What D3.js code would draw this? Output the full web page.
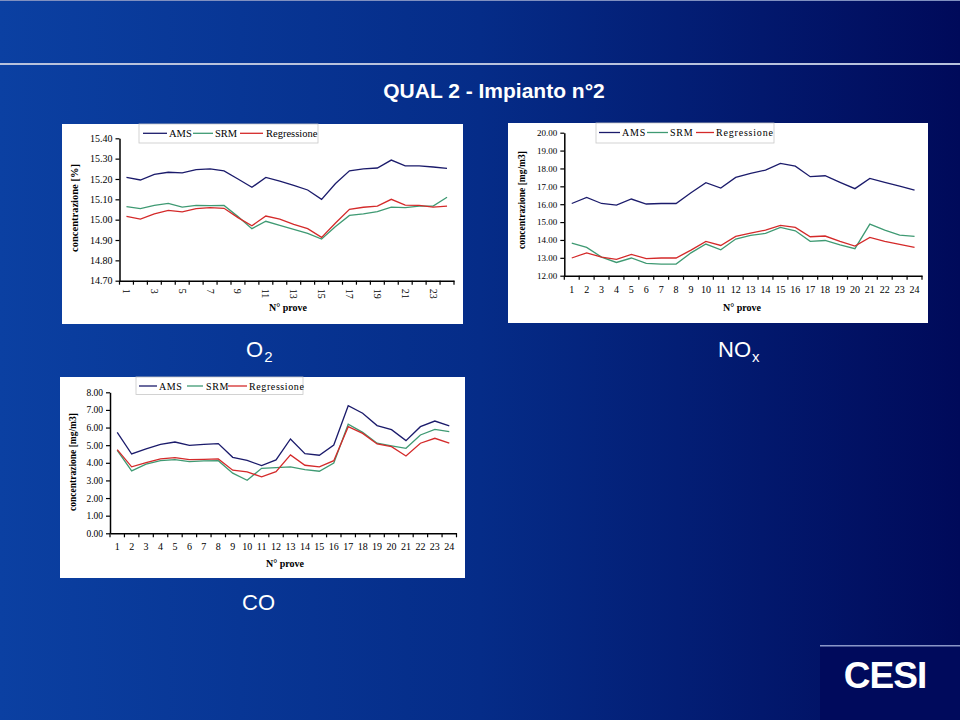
<!DOCTYPE html>
<html><head><meta charset="utf-8">
<script src="https://cdn.jsdelivr.net/npm/d3@7"></script>
<style>
html,body{margin:0;padding:0;background:#062a86;}
svg{display:block;}
</style></head>
<body>
<svg id="c" width="960" height="720"></svg>
<script>
const prove = [1,2,3,4,5,6,7,8,9,10,11,12,13,14,15,16,17,18,19,20,21,22,23,24];
const seriesNames = ["AMS","SRM","Regressione"];

const o2AMS = [15.208,15.195,15.223,15.233,15.230,15.246,15.250,15.240,15.200,15.159,15.208,15.190,15.169,15.146,15.100,15.178,15.240,15.250,15.254,15.293,15.264,15.264,15.259,15.252];
const o2SRM = [15.064,15.054,15.070,15.080,15.062,15.070,15.069,15.070,15.015,14.956,14.992,14.972,14.952,14.933,14.905,14.966,15.021,15.028,15.039,15.062,15.059,15.067,15.067,15.110];
const o2Reg = [15.016,15.003,15.028,15.046,15.038,15.054,15.059,15.056,15.010,14.970,15.018,15.003,14.977,14.956,14.913,14.984,15.051,15.061,15.067,15.100,15.072,15.070,15.062,15.067];
const o2Ticks = [14.70,14.80,14.90,15.00,15.10,15.20,15.30,15.40];
const o2XLabels = [1,3,5,7,9,11,13,15,17,19,21,23];

const noxAMS = [16.04,16.38,16.04,15.95,16.29,16.01,16.04,16.04,16.64,17.20,16.90,17.50,17.72,17.91,18.28,18.13,17.54,17.59,17.22,16.87,17.44,17.22,17.01,16.79];
const noxSRM = [13.82,13.58,13.04,12.74,12.99,12.69,12.65,12.65,13.28,13.77,13.45,14.05,14.25,14.37,14.70,14.51,13.92,13.97,13.73,13.51,14.89,14.55,14.27,14.20];
const noxReg = [12.99,13.28,13.04,12.91,13.19,12.95,12.99,12.99,13.43,13.92,13.69,14.20,14.38,14.55,14.81,14.70,14.18,14.22,13.92,13.66,14.14,13.92,13.75,13.58];
const noxTicks = [12,13,14,15,16,17,18,19,20];

const coAMS = [5.73,4.50,4.79,5.05,5.18,4.99,5.05,5.09,4.31,4.14,3.84,4.16,5.35,4.52,4.43,5.01,7.24,6.81,6.11,5.88,5.26,6.05,6.37,6.09];
const coSRM = [4.70,3.54,3.92,4.12,4.18,4.07,4.11,4.12,3.41,3.01,3.69,3.73,3.77,3.61,3.52,3.99,6.19,5.73,5.11,4.96,4.82,5.58,5.90,5.77];
const coReg = [4.75,3.77,4.01,4.22,4.29,4.18,4.20,4.22,3.58,3.48,3.20,3.50,4.45,3.86,3.77,4.12,6.05,5.67,5.07,4.92,4.39,5.11,5.39,5.11];
const coTicks = [0,1,2,3,4,5,6,7,8];

const colors = ["#1b1b6b","#3f9a73","#d42a2a"];

const svg = d3.select("#c");
const defs = svg.append("defs");
const g = defs.append("linearGradient").attr("id","bg").attr("x1","0").attr("x2","1").attr("y1","0").attr("y2","0");
g.append("stop").attr("offset","0").attr("stop-color","#0b40a2");
g.append("stop").attr("offset","0.5").attr("stop-color","#052c88");
g.append("stop").attr("offset","1").attr("stop-color","#000a5a");
svg.append("rect").attr("width",960).attr("height",720).attr("fill","url(#bg)");
svg.append("rect").attr("x",0).attr("y",63).attr("width",960).attr("height",2).attr("fill","#b8c2dc");
svg.append("rect").attr("x",0).attr("y",0).attr("width",960).attr("height",1).attr("fill","#8090c0");

svg.append("text").attr("x",494).attr("y",98).attr("text-anchor","middle")
  .attr("font-family","Liberation Sans, Arial, sans-serif").attr("font-weight","bold")
  .attr("font-size",21).attr("fill","#ffffff").text("QUAL 2 - Impianto n°2");

function drawChart(o){
  const gr = svg.append("g");
  gr.append("rect").attr("x",o.box[0]).attr("y",o.box[1]).attr("width",o.box[2]-o.box[0]).attr("height",o.box[3]-o.box[1]).attr("fill","#ffffff");
  const x = d3.scaleBand().domain(prove).range([o.px0,o.px1]).padding(0);
  const y = d3.scaleLinear().domain([o.ticks[0],o.ticks[o.ticks.length-1]]).range([o.py1,o.py0]);
  o.series.forEach((s,i)=>{
    const line = d3.line().x((d,j)=>x(prove[j])+x.bandwidth()/2).y(d=>y(d));
    gr.append("path").datum(s).attr("d",line).attr("fill","none").attr("stroke",colors[i]).attr("stroke-width",1.3);
  });
  const ya = d3.axisLeft(y).tickValues(o.ticks).tickFormat(d3.format(".2f")).tickSize(4).tickSizeOuter(0);
  const yg = gr.append("g").attr("transform",`translate(${o.px0},0)`).call(ya);
  yg.select(".domain").attr("stroke","#000").attr("stroke-width",1.5);
  yg.selectAll(".tick line").attr("stroke","#000").attr("stroke-width",1.2);
  yg.selectAll("text").attr("font-family","Liberation Serif, Times New Roman, serif").attr("font-size",o.yfs).attr("fill","#000").attr("x",-7);
  const xa = d3.axisBottom(x).tickValues(o.xlabels).tickSize(0).tickSizeOuter(0);
  const xg = gr.append("g").attr("transform",`translate(0,${o.py1})`).call(xa);
  xg.select(".domain").attr("stroke","#000").attr("stroke-width",1.5);
  xg.selectAll("text").attr("font-family","Liberation Serif, Times New Roman, serif").attr("font-size",o.xfs).attr("fill","#000");
  if(o.rot){
    xg.selectAll("text").attr("transform","rotate(90)").attr("text-anchor","start").attr("dy","0.35em").attr("y",0).attr("x",8);
  } else {
    xg.selectAll("text").attr("dy","0.71em").attr("y",o.xly);
  }
  const bounds = prove.map(p=>x(p)).concat([x(prove[prove.length-1])+x.bandwidth()]);
  gr.append("g").selectAll("line").data(bounds).join("line")
    .attr("x1",d=>d).attr("x2",d=>d).attr("y1",o.py1).attr("y2",o.py1+4).attr("stroke","#000").attr("stroke-width",1.2);
  gr.append("text").attr("transform",`translate(${o.yt[0]},${o.yt[1]}) rotate(-90)`).attr("text-anchor","middle")
    .attr("font-family","Liberation Serif, Times New Roman, serif").attr("font-weight","bold").attr("font-size",o.ytfs).text(o.ytitle);
  gr.append("text").attr("x",o.xt[0]).attr("y",o.xt[1]).attr("text-anchor","middle").attr("dy","0.35em")
    .attr("font-family","Liberation Serif, Times New Roman, serif").attr("font-weight","bold").attr("font-size",10).text("N° prove");
  const L = o.legend;
  gr.append("rect").attr("x",L.box[0]).attr("y",L.box[1]).attr("width",L.box[2]-L.box[0]).attr("height",L.box[3]-L.box[1])
    .attr("fill","#fff").attr("stroke","#c8c8c8").attr("stroke-width",0.8);
  seriesNames.forEach((n,i)=>{
    const it = L.items[i];
    gr.append("line").attr("x1",it[0]).attr("x2",it[1]).attr("y1",L.y).attr("y2",L.y).attr("stroke",colors[i]).attr("stroke-width",1.3);
    gr.append("text").attr("x",it[2]).attr("y",L.y).attr("dy","0.35em").attr("font-family","Liberation Serif, Times New Roman, serif")
      .attr("font-size",L.fs).attr("letter-spacing",L.ls||0).attr("fill","#000").text(n);
  });
}

drawChart({
  box:[62,124,463,324], px0:119.5, px1:454, py0:138.3, py1:280.7,
  ticks:o2Ticks, series:[o2AMS,o2SRM,o2Reg], xlabels:o2XLabels, rot:true,
  yfs:10, xfs:10, ytfs:10.5, ytitle:"concentrazione [%]", yt:[78,208], xt:[288,307],
  legend:{box:[139,124,318,143], y:133.3, fs:10.5, items:[[143,167,169],[193,213,215],[240,263,266]]}
});
drawChart({
  box:[508,123,928,323], px0:564.3, px1:922, py0:132.7, py1:275.7,
  ticks:noxTicks, series:[noxAMS,noxSRM,noxReg], xlabels:prove, rot:false, xly:10,
  yfs:9, xfs:10, ytfs:9.5, ytitle:"concentrazione [mg/m3]", yt:[525,200], xt:[742,307],
  legend:{box:[596,123,774,143], y:132.5, fs:10, ls:0.8, items:[[599,620,622],[647,668,670],[696,714,716]]}
});
drawChart({
  box:[60,377,465,578], px0:110, px1:456.5, py0:392.3, py1:533.3,
  ticks:coTicks, series:[coAMS,coSRM,coReg], xlabels:prove, rot:false, xly:10,
  yfs:9.5, xfs:10, ytfs:9.5, ytitle:"concentrazione [mg/m3]", yt:[76,462], xt:[285,563],
  legend:{box:[136,377,303,394.5], y:386, fs:10, ls:0.6, items:[[139,157,159],[187,203,206],[228,247,249]]}
});

function species(xp, yp, main, sub){
  const t = svg.append("text").attr("x",xp).attr("y",yp).attr("font-family","Liberation Sans, Arial, sans-serif")
    .attr("font-size",22).attr("fill","#fff");
  t.append("tspan").text(main);
  if(sub){ t.append("tspan").attr("font-size",15).attr("dy",5).attr("dx",1).text(sub); }
}
species(246,357,"O","2");
species(718,357,"NO","x");
species(242,610,"CO",null);

svg.append("rect").attr("x",820).attr("y",647).attr("width",140).attr("height",73).attr("fill","#000a5c");
svg.append("rect").attr("x",820).attr("y",645).attr("width",140).attr("height",1.5).attr("fill","#8a96c8");
svg.append("text").attr("x",885).attr("y",688).attr("text-anchor","middle").attr("font-family","Liberation Sans, Arial, sans-serif")
  .attr("font-weight","bold").attr("font-size",37).attr("fill","#fff").attr("letter-spacing",-1).text("CESI");
</script>
</body></html>
